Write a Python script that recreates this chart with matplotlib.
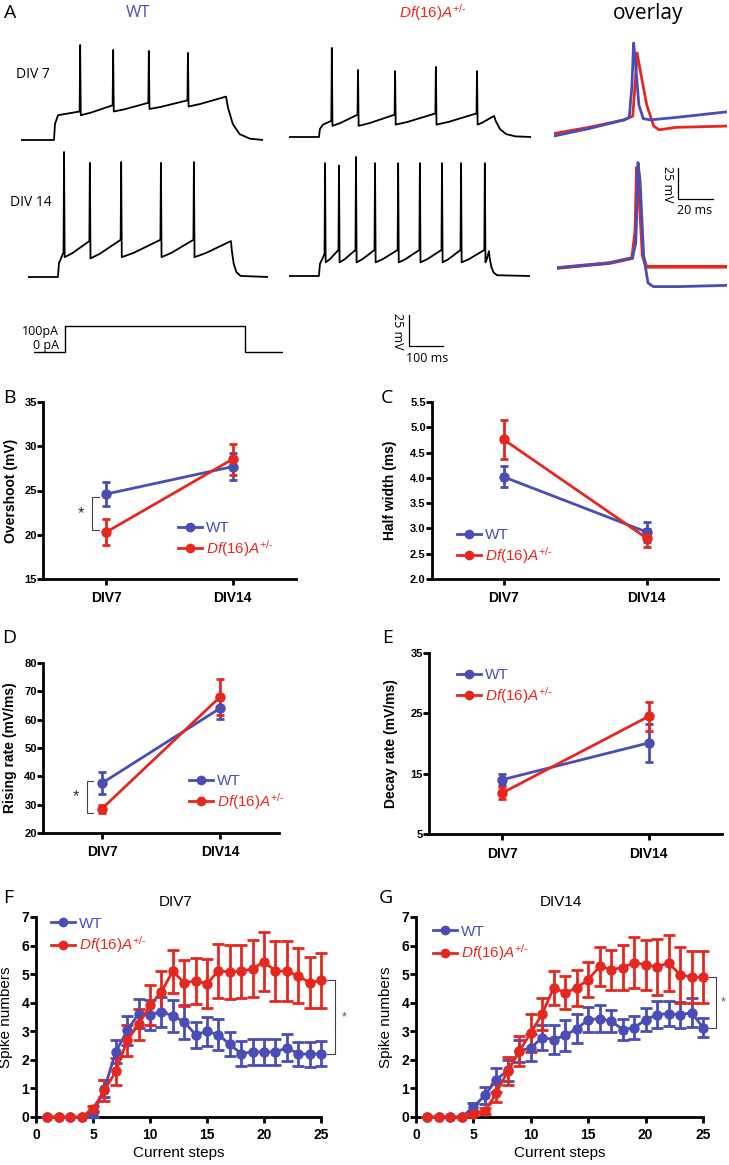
import numpy as np
import matplotlib
matplotlib.use('Agg')
import matplotlib.pyplot as plt
from matplotlib.lines import Line2D

plt.rcParams['font.family'] = ['Liberation Sans', 'DejaVu Sans']
plt.rcParams['mathtext.fontset'] = 'custom'
plt.rcParams['mathtext.it'] = 'Liberation Sans:italic'
plt.rcParams['mathtext.rm'] = 'Liberation Sans'
plt.rcParams['mathtext.bf'] = 'Liberation Sans:bold'

BLUE = '#4a4db5'
RED = '#e5281f'
W, H = 729, 1165
DF_LABEL = r'$\mathit{Df(16)A}^{\mathit{+/}\text{-}}$'

# ---------------- data ----------------
# panel A: spike times (ms) and peaks (mV), levels before / after each spike
wt7_spk_t = [174, 271, 376, 491]
wt7_spk_v = [11.6, 7.6, 6.8, 5.2]
wt7_pre = [-42, -37, -35, -33]
wt7_trough = [-45, -42, -40, -38]

df7_spk_t = [126, 203, 312, 432, 553]
df7_spk_v = [6.8, -11, -11.8, -8.5, -11.8]
df7_pre = [-52, -47, -47, -46, -46]
df7_trough = [-56, -56, -55, -55, -55]

wt14_spk_t = [106, 182, 274, 391, 488]
wt14_spk_v = [35.8, 27, 27.7, 27, 27.7]
wt14_pre = [-45, -36, -35, -35, -35]
wt14_trough = [-49, -50, -49, -49, -49]

df14_spk_t = [106, 147, 197, 253, 321, 385, 450, 506, 576]
df14_spk_v = [26, 24, 31, 26, 26, 26, 26, 26, 26]
df14_pre = [-47, -44, -44, -44, -44, -44, -44, -44, -44]
df14_trough = [-54, -54, -54, -54, -54, -54, -54, -54, -54]

# overlay single spikes (ms, mV)
ov7_wt_t = [0, 20, 40, 43, 44.5, 45.5, 46.5, 48.5, 51, 55, 70, 99]
ov7_wt_v = [-60, -54, -47, -45, -20, 15, 0, -35, -46, -47, -45, -40.5]
ov7_df_t = [0, 20, 40, 45, 46.5, 47.5, 49, 53, 57, 60, 70, 99]
ov7_df_v = [-58, -53, -47, -44, -15, 7, -5, -35, -52, -55, -53, -52]
ov14_wt_t = [0, 30, 43, 45, 46.3, 47.5, 49.5, 52, 55, 70, 97]
ov14_wt_v = [-60, -56, -52, -40, 25, 10, -50, -72, -75, -75, -74]
ov14_df_t = [0, 30, 43, 44.8, 45.7, 47, 49, 51, 97]
ov14_df_v = [-60, -56, -52, -30, 21, 0, -50, -59, -59]

# current step (ms, pA)
step_t = [0, 91, 91, 620, 620, 732]
step_i = [0, 0, 100, 100, 0, 0]

# panels B-E
divs = ['DIV7', 'DIV14']
over_wt, over_wt_err = [24.6, 27.7], [1.4, 1.5]
over_df, over_df_err = [20.3, 28.55], [1.5, 1.75]
half_wt, half_wt_err = [4.02, 2.93], [0.21, 0.19]
half_df, half_df_err = [4.76, 2.81], [0.38, 0.18]
rise_wt, rise_wt_err = [37.6, 64.0], [4.0, 3.8]
rise_df, rise_df_err = [28.6, 68.0], [1.4, 6.2]
decay_wt, decay_wt_err = [14.0, 20.1], [0.9, 3.2]
decay_df, decay_df_err = [11.8, 24.5], [1.0, 2.4]

# panels F-G
steps = list(range(1, 26))
f_wt = [0, 0, 0, 0, 0.1, 0.99, 2.28, 3.03, 3.62, 3.56, 3.68, 3.54, 3.33, 2.88, 3.0,
        2.88, 2.54, 2.22, 2.28, 2.28, 2.28, 2.42, 2.22, 2.19, 2.22]
f_wt_err = [0, 0, 0, 0, 0.1, 0.3, 0.4, 0.5, 0.5, 0.52, 0.52, 0.56, 0.6, 0.45, 0.5,
            0.55, 0.42, 0.43, 0.45, 0.45, 0.45, 0.47, 0.42, 0.45, 0.44]
f_df = [0, 0, 0, 0, 0.29, 0.93, 1.6, 2.68, 3.24, 3.91, 4.38, 5.1, 4.7, 4.76, 4.67,
        5.11, 5.08, 5.1, 5.19, 5.43, 5.11, 5.1, 4.94, 4.7, 4.78]
f_df_err = [0, 0, 0, 0, 0.1, 0.37, 0.47, 0.55, 0.55, 0.7, 0.72, 0.76, 0.8, 0.82, 0.86,
            0.96, 0.95, 0.92, 1.0, 1.03, 1.06, 1.05, 0.96, 0.9, 0.97]
g_wt = [0, 0, 0, 0, 0.35, 0.76, 1.31, 1.63, 2.31, 2.42, 2.78, 2.71, 2.86, 3.09, 3.41,
        3.44, 3.36, 3.06, 3.12, 3.41, 3.58, 3.62, 3.58, 3.65, 3.13]
g_wt_err = [0, 0, 0, 0, 0.15, 0.3, 0.42, 0.38, 0.4, 0.47, 0.45, 0.52, 0.55, 0.5, 0.45,
            0.47, 0.38, 0.36, 0.4, 0.4, 0.47, 0.44, 0.45, 0.5, 0.33]
g_df = [0, 0, 0, 0, 0.12, 0.2, 0.84, 1.61, 2.31, 2.94, 3.62, 4.52, 4.35, 4.52, 4.81,
        5.27, 5.16, 5.23, 5.4, 5.33, 5.25, 5.4, 4.98, 4.9, 4.9]
g_df_err = [0, 0, 0, 0, 0.05, 0.1, 0.3, 0.5, 0.53, 0.67, 0.56, 0.6, 0.57, 0.64, 0.62,
            0.68, 0.7, 0.8, 0.9, 0.87, 0.97, 0.98, 0.98, 0.92, 0.92]

fig = plt.figure(figsize=(W / 100, H / 100), dpi=100)


def px_axes(left, top, right, bottom):
    return fig.add_axes([left / W, 1 - bottom / H, (right - left) / W, (bottom - top) / H])


def ftext(x, y, s, **kw):
    fig.text(x / W, 1 - y / H, s, **kw)


# ---------------- panel A ----------------
PX_MV = 1.24  # 25 mV = 31 px


def trace_axes(x0, y_ref, v_ref, t_span, px_ms, v_lo=-95, v_hi=45):
    top = y_ref - (v_hi - v_ref) * PX_MV
    bottom = y_ref + (v_ref - v_lo) * PX_MV
    ax = px_axes(x0, top, x0 + t_span * px_ms, bottom)
    ax.set_xlim(0, t_span)
    ax.set_ylim(v_lo, v_hi)
    ax.axis('off')
    return ax


def build_trace(t_on, t_off, t_end, tau, v_rest, v_end, spk_t, spk_v, pre_v, trough_v):
    t = [0.0, t_on, t_on + 3, t_on + 12]
    v = [v_rest, v_rest, v_rest + 0.65 * (pre_v[0] - 3 - v_rest), pre_v[0] - 3]
    nxt_t = list(spk_t[1:]) + [t_off]
    nxt_v = list(pre_v[1:]) + [v_end]
    for ts, vp, vpre, vtr, tn, vn in zip(spk_t, spk_v, pre_v, trough_v, nxt_t, nxt_v):
        t += [ts - 1.5, ts, ts + 1.8, ts + 1.8 + 0.3 * (tn - ts)]
        v += [vpre, vp, vtr, vtr + 0.25 * (vn - vtr)]
    t.append(t_off)
    v.append(v_end)
    for k in [0.3, 1.0, 2.0, 3.5]:
        t.append(t_off + k * tau)
        v.append(v_rest + (v_end - v_rest) * np.exp(-k))
    t.append(t_end)
    v.append(v_rest)
    return t, v


TRACE_LW = 1.3
ax = trace_axes(21, 140, -65, 712, 0.34)
ax.plot(*build_trace(97, 603, 712, 20, -65, -30, wt7_spk_t, wt7_spk_v, wt7_pre, wt7_trough),
        color='black', lw=TRACE_LW)
ax = trace_axes(289, 137, -65, 712, 0.34)
ax.plot(*build_trace(88, 603, 712, 18, -65, -48, df7_spk_t, df7_spk_v, df7_pre, df7_trough),
        color='black', lw=TRACE_LW)
ax = trace_axes(28, 277, -65, 706, 0.34)
ax.plot(*build_trace(88, 597, 706, 8, -65, -36, wt14_spk_t, wt14_spk_v, wt14_pre, wt14_trough),
        color='black', lw=TRACE_LW)
ax = trace_axes(289, 276, -65, 709, 0.34)
ax.plot(*build_trace(88, 588, 709, 7, -65, -45, df14_spk_t, df14_spk_v, df14_pre, df14_trough),
        color='black', lw=TRACE_LW)

ax = trace_axes(554, 136, -60, 99, 1.75)
ax.plot(ov7_df_t, ov7_df_v, color=RED, lw=2)
ax.plot(ov7_wt_t, ov7_wt_v, color=BLUE, lw=2)
ax = trace_axes(557, 268, -60, 97, 1.75)
ax.plot(ov14_df_t, ov14_df_v, color=RED, lw=2.6)
ax.plot(ov14_wt_t, ov14_wt_v, color=BLUE, lw=2)

# current step
ax = px_axes(34, 320, 34 + 732 * 0.34, 356)
ax.set_xlim(0, 732)
ax.set_ylim(-15, 123)
ax.axis('off')
ax.plot(step_t, step_i, color='black', lw=1)

# scale bars
SB_MV, SB_MS_OV, SB_MS = 25, 20, 100
ax = trace_axes(678, 199, 0, 25, 1.75, v_lo=0, v_hi=25)
ax.plot([0, 0, SB_MS_OV], [SB_MV, 0, 0], color='black', lw=0.9, clip_on=False)
ax = trace_axes(409, 346, 0, 100, 0.34, v_lo=0, v_hi=25)
ax.plot([0, 0, SB_MS], [SB_MV, 0, 0], color='black', lw=0.9, clip_on=False)

ftext(667, 184, '25 mV', rotation=270, ha='center', va='center', fontsize=9, family='Open Sans')
ftext(695, 211, '20 ms', ha='center', va='center', fontsize=9, family='Open Sans')
ftext(397, 331, '25 mV', rotation=270, ha='center', va='center', fontsize=9, family='Open Sans')
ftext(427, 358, '100 ms', ha='center', va='center', fontsize=9, family='Open Sans')
ftext(59, 331, '100pA', ha='right', va='center', fontsize=9, family='Open Sans')
ftext(59, 345, '0 pA', ha='right', va='center', fontsize=9, family='Open Sans')

ftext(4, 13, 'A', ha='left', va='center', fontsize=14, family='Open Sans')
ftext(138, 13, 'WT', ha='center', va='center', fontsize=12, color=BLUE, family='Open Sans')
ftext(433, 13, DF_LABEL, ha='center', va='center', fontsize=11, color=RED)
ftext(648, 14, 'overlay', ha='center', va='center', fontsize=15, family='Open Sans')
ftext(16, 75, 'DIV 7', ha='left', va='center', fontsize=10, family='Open Sans')
ftext(10, 202, 'DIV 14', ha='left', va='center', fontsize=10, family='Open Sans')


# ---------------- panels B-E ----------------
def legend_at(ax, x, y, fontsize=11, spacing=0.15):
    hs = [Line2D([], [], color=BLUE, marker='o', ms=6, lw=2),
          Line2D([], [], color=RED, marker='o', ms=6, lw=2)]
    leg = ax.legend(hs, ['WT', DF_LABEL], loc='center left', bbox_to_anchor=(x / W, 1 - y / H),
                    bbox_transform=fig.transFigure, frameon=False, borderpad=0,
                    borderaxespad=0, handlelength=1.6, handletextpad=0.25,
                    labelspacing=spacing, fontsize=fontsize, numpoints=1)
    for txt, c in zip(leg.get_texts(), [BLUE, RED]):
        txt.set_color(c)


def errplot(ax, x, y, yerr, color, capsize):
    cont = ax.errorbar(x, y, yerr=yerr, color=color, marker='o', ms=6.5, lw=2,
                       capsize=capsize, capthick=2, elinewidth=2, zorder=3)
    for art in [cont[0], *cont[1], *cont[2]]:
        art.set_clip_on(False)


def dev_panel(box, ylim, yticks, fmt, ylabel, lab_x, wt, wt_err, df, df_err, leg_xy):
    ax = px_axes(*box)
    errplot(ax, [0, 1], wt, wt_err, BLUE, 3)
    errplot(ax, [0, 1], df, df_err, RED, 3)
    ax.set_xlim(-0.5, 1.5)
    ax.set_ylim(*ylim)
    ax.set_yticks(yticks)
    ax.set_yticklabels([fmt.format(t) for t in yticks], fontweight='bold', fontsize=8)
    ax.set_xticks([0, 1])
    ax.set_xticklabels(divs, fontweight='bold', fontsize=10)
    for s in ['top', 'right']:
        ax.spines[s].set_visible(False)
    for s in ['left', 'bottom']:
        ax.spines[s].set_linewidth(2)
    ax.tick_params(axis='y', width=2, length=4, pad=0.5)
    ax.tick_params(axis='x', width=2, length=4, pad=5)
    ax.set_ylabel(ylabel, fontweight='bold', fontsize=10)
    ax.yaxis.set_label_coords(lab_x, 0.5)
    legend_at(ax, *leg_xy)
    return ax


def bracket(ax, x, dx, y1, y2, star_dx, star_size):
    ax.plot([x + dx, x, x, x + dx], [y1, y1, y2, y2], color='#444444', lw=0.8, clip_on=False)
    ax.text(x + star_dx, (y1 + y2) / 2, '*', ha='center', va='center', fontsize=star_size,
            color='#333333')


ax = dev_panel((43, 402, 296, 579), (15, 35), [15, 20, 25, 30, 35], '{:.0f}', 'Overshoot (mV)',
               -0.1, over_wt, over_wt_err, over_df, over_df_err, (178, 540))
bracket(ax, -0.11, 0.055, over_wt[0] - 0.3, over_df[0] + 0.2, -0.09, 12)
ax = dev_panel((432, 402, 718, 579), (2.0, 5.5), [2.0, 2.5, 3.0, 3.5, 4.0, 4.5, 5.0, 5.5],
               '{:.1f}', 'Half width (ms)', -0.122, half_wt, half_wt_err, half_df, half_df_err,
               (457, 547))
ax = dev_panel((43, 663, 279, 833), (20, 80), [20, 30, 40, 50, 60, 70, 80], '{:.0f}',
               'Rising rate (mV/ms)', -0.11, rise_wt, rise_wt_err, rise_df, rise_df_err,
               (189, 793))
bracket(ax, -0.13, 0.05, rise_wt[0] + 0.9, rise_df[0] - 1.5, -0.09, 12)
ax = dev_panel((429, 653, 722, 834), (5, 35), [5, 15, 25, 35], '{:.0f}', 'Decay rate (mV/ms)',
               -0.106, decay_wt, decay_wt_err, decay_df, decay_df_err, (457, 687))


# ---------------- panels F-G ----------------
def spike_panel(box, wt, wt_err, df, df_err, title, title_x, lab_x, leg_xy, br_x, star_x):
    ax = px_axes(*box)
    errplot(ax, steps, wt, wt_err, BLUE, 4.5)
    errplot(ax, steps, df, df_err, RED, 4.5)
    ax.set_xlim(0, 25)
    ax.set_ylim(0, 7)
    ax.set_xticks([0, 5, 10, 15, 20, 25])
    ax.set_yticks(range(0, 8))
    for s in ['top', 'right']:
        ax.spines[s].set_visible(False)
    for s in ['left', 'bottom']:
        ax.spines[s].set_linewidth(2)
    ax.tick_params(width=2, length=4, labelsize=10)
    ax.tick_params(axis='y', pad=1)
    ax.tick_params(axis='x', pad=4)
    for lab in ax.get_xticklabels() + ax.get_yticklabels():
        lab.set_fontweight('bold')
    ax.set_ylabel('Spike numbers', fontsize=11)
    ax.yaxis.set_label_coords(lab_x, 0.5)
    ax.set_xlabel('Current steps', fontsize=11)
    ax.xaxis.set_label_coords(0.5, -0.145)
    ax.text(title_x, 1.075, title, transform=ax.transAxes, ha='center', va='center', fontsize=11)
    legend_at(ax, *leg_xy, spacing=0.25)
    ax.plot([steps[-1] + 0.5, br_x, br_x, steps[-1] + 0.5], [df[-1], df[-1], wt[-1], wt[-1]],
            color='#444444', lw=0.8, clip_on=False)
    ax.text(star_x, (df[-1] + wt[-1]) / 2, '*', ha='center', va='center', fontsize=9,
            color='#555555')
    return ax


spike_panel((36, 917, 321, 1117), f_wt, f_wt_err, f_df, f_df_err, 'DIV7', 0.49, -0.081,
            (51, 936), 26.2, 27.0)
spike_panel((416, 917, 703, 1117), g_wt, g_wt_err, g_df, g_df_err, 'DIV14', 0.505, -0.08,
            (433, 944), 26.1, 26.8)

# panel letters
for lab, x, y in [('B', 3, 398), ('C', 381, 398), ('D', 2, 638), ('E', 382, 638),
                  ('F', 3, 898), ('G', 379, 898)]:
    ftext(x, y, lab, ha='left', va='center', fontsize=14, family='Open Sans')

fig.savefig('out.png', dpi=100)
